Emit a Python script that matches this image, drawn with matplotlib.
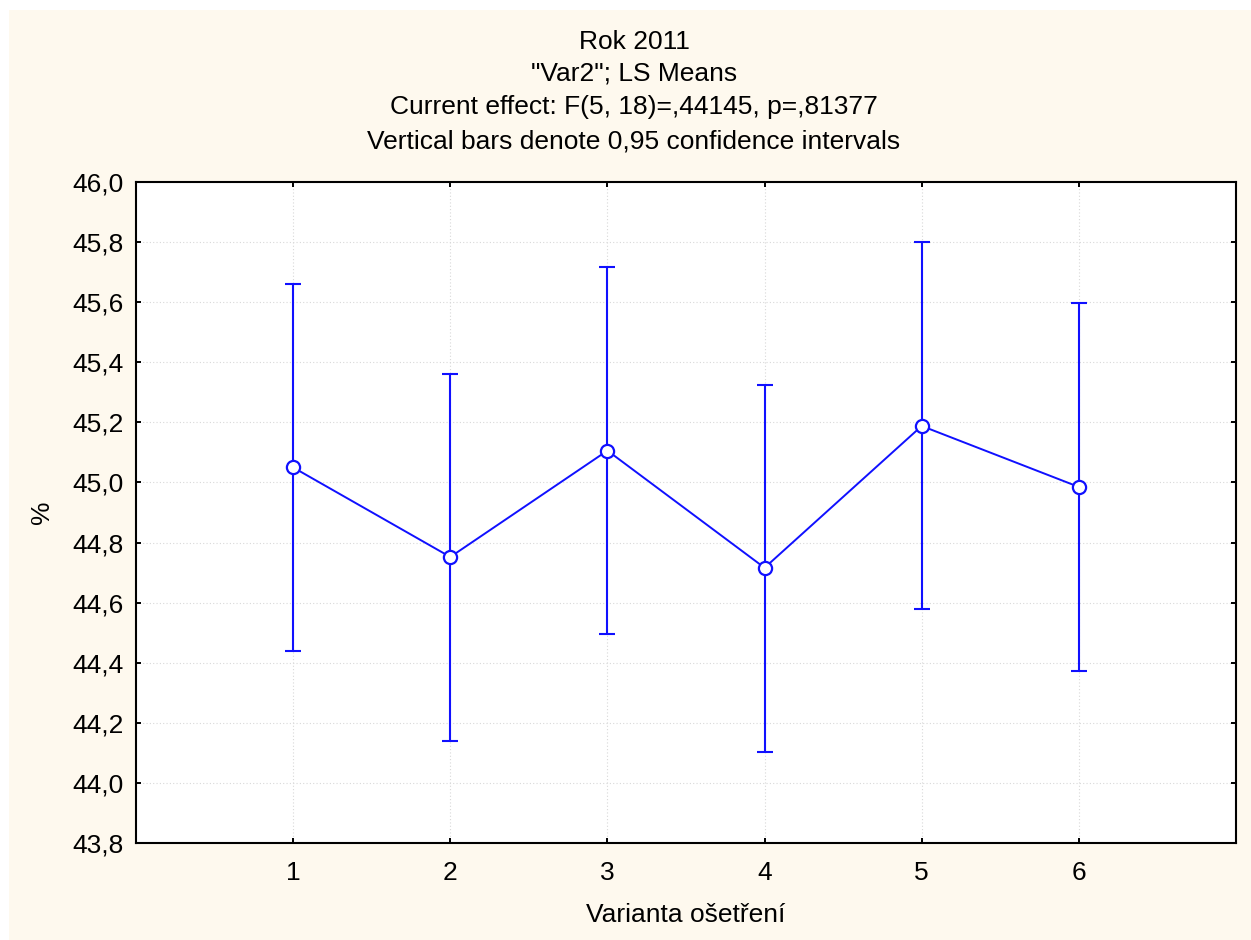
import matplotlib
matplotlib.use("Agg")
import matplotlib.pyplot as plt
from matplotlib.ticker import FuncFormatter, MultipleLocator
from matplotlib.patches import Rectangle

categories = [1, 2, 3, 4, 5, 6]
means = [45.05, 44.752, 45.106, 44.716, 45.188, 44.985]
lower = [44.44, 44.140, 44.497, 44.104, 44.580, 44.373]
upper = [45.66, 45.361, 45.717, 45.325, 45.800, 45.597]
title_lines = ["Rok 2011", '"Var2"; LS Means',
               "Current effect: F(5, 18)=,44145, p=,81377",
               "Vertical bars denote 0,95 confidence intervals"]
xlabel = "Varianta ošetření"
ylabel = "%"

plt.rcParams['font.family'] = ['Liberation Sans', 'DejaVu Sans']

W, H = 1251, 940
FS = 19
fig = plt.figure(figsize=(W/100, H/100), dpi=100)
fig.patch.set_facecolor('white')
fig.patches.append(Rectangle((9/W, 0), 1 - 9/W, 1 - 10/H, transform=fig.transFigure,
                             facecolor='#FEF9EE', edgecolor='none', zorder=-10))

ax = fig.add_axes([136/W, 1 - 843/H, (1236-136)/W, (843-182)/H])
ax.set_facecolor('white')

blue = '#1010FF'
yerr = [[m - l for m, l in zip(means, lower)], [u - m for m, u in zip(means, upper)]]
ax.errorbar(categories, means, yerr=yerr, fmt='none', ecolor=blue, elinewidth=1.5,
            capsize=5.6, capthick=1.5, zorder=3)
ax.plot(categories, means, color=blue, lw=1.4, marker='o', markersize=9.5,
        markerfacecolor='white', markeredgecolor=blue, markeredgewidth=1.6, zorder=4)

ax.set_xlim(0, 7)
ax.set_ylim(43.8, 46.0)
ax.set_xticks(categories)
ax.yaxis.set_major_locator(MultipleLocator(0.2))
ax.yaxis.set_major_formatter(FuncFormatter(lambda v, p: f"{v:.1f}".replace('.', ',')))
ax.tick_params(direction='in', top=True, right=True, length=3.6, width=1.4,
               labelsize=FS, colors='black')
ax.tick_params(axis='x', pad=13)
ax.tick_params(axis='y', pad=9)
for s in ax.spines.values():
    s.set_linewidth(1.5)
ax.grid(True, color='#D8D8D8', linestyle=(0, (1, 2)), linewidth=0.8, zorder=0)

ax.set_xlabel(xlabel, fontsize=FS)
ax.set_ylabel(ylabel, fontsize=FS)
ax.xaxis.label.set_va('center')
ax.xaxis.set_label_coords(0.5, (843 - 915) / 661)
ax.yaxis.label.set_va('center')
ax.yaxis.set_label_coords((42 - 136) / 1100, 0.5)

ys = [42, 73, 107, 142]
for t, y in zip(title_lines, ys):
    fig.text(634/W, 1 - y/H, t, ha='center', va='center', fontsize=FS)

fig.savefig('out.png', dpi=100)
